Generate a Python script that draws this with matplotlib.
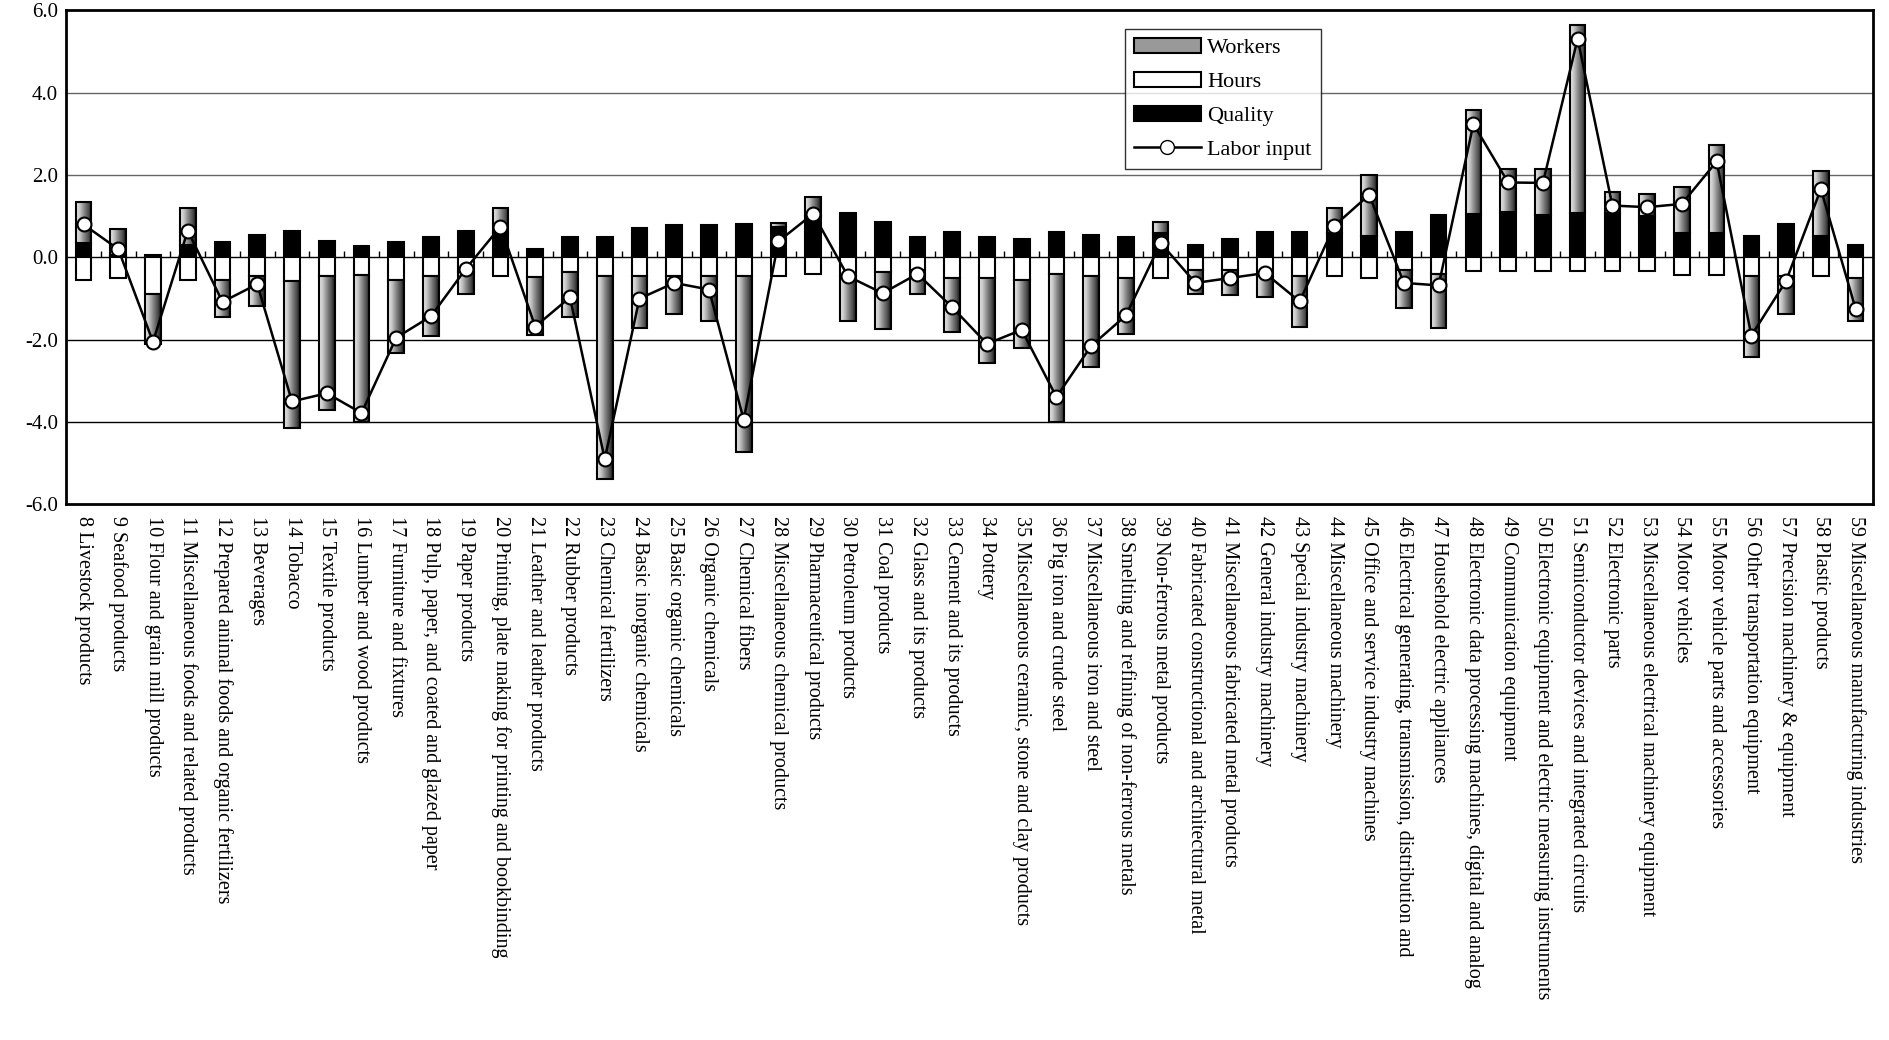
import numpy as np
import matplotlib.pyplot as plt
from matplotlib.patches import Patch
from matplotlib.lines import Line2D

plt.rcParams['font.family'] = ['Liberation Serif', 'DejaVu Serif']

industries = [
    "8 Livestock products", "9 Seafood products", "10 Flour and grain mill products",
    "11 Miscellaneous foods and related products", "12 Prepared animal foods and organic fertilizers",
    "13 Beverages", "14 Tobacco", "15 Textile products", "16 Lumber and wood products",
    "17 Furniture and fixtures", "18 Pulp, paper, and coated and glazed paper", "19 Paper products",
    "20 Printing, plate making for printing and bookbinding", "21 Leather and leather products",
    "22 Rubber products", "23 Chemical fertilizers", "24 Basic inorganic chemicals",
    "25 Basic organic chemicals", "26 Organic chemicals", "27 Chemical fibers",
    "28 Miscellaneous chemical products", "29 Pharmaceutical products", "30 Petroleum products",
    "31 Coal products", "32 Glass and its products", "33 Cement and its products", "34 Pottery",
    "35 Miscellaneous ceramic, stone and clay products", "36 Pig iron and crude steel",
    "37 Miscellaneous iron and steel", "38 Smelting and refining of non-ferrous metals",
    "39 Non-ferrous metal products", "40 Fabricated constructional and architectural metal",
    "41 Miscellaneous fabricated metal products", "42 General industry machinery",
    "43 Special industry machinery", "44 Miscellaneous machinery",
    "45 Office and service industry machines", "46 Electrical generating, transmission, distribution and",
    "47 Household electric appliances", "48 Electronic data processing machines, digital and analog",
    "49 Communication equipment", "50 Electronic equipment and electric measuring instruments",
    "51 Semiconductor devices and integrated circuits", "52 Electronic parts",
    "53 Miscellaneous electrical machinery equipment", "54 Motor vehicles",
    "55 Motor vehicle parts and accessories", "56 Other transportation equipment",
    "57 Precision machinery & equipment", "58 Plastic products", "59 Miscellaneous manufacturing industries",
]

quality = [0.35, 0.05, 0.05, 0.30, 0.38, 0.55, 0.65, 0.40, 0.27, 0.38, 0.50, 0.63, 0.60,
           0.20, 0.50, 0.50, 0.72, 0.78, 0.78, 0.80, 0.74, 1.00, 1.09, 0.87, 0.49, 0.62,
           0.49, 0.45, 0.62, 0.55, 0.49, 0.60, 0.29, 0.45, 0.62, 0.62, 0.60, 0.53, 0.62,
           1.04, 1.06, 1.10, 1.03, 1.09, 1.09, 1.00, 0.59, 0.59, 0.51, 0.82, 0.51, 0.31]
workers = [1.00, 0.65, -1.20, 0.90, -0.90, -0.72, -3.58, -3.24, -3.58, -1.77, -1.47, -0.55,
           0.60, -1.40, -1.10, -4.93, -1.27, -0.93, -1.10, -4.28, 0.10, 0.47, -1.10, -1.37,
           -0.58, -1.32, -2.08, -1.66, -3.60, -2.23, -1.37, 0.25, -0.59, -0.62, -0.51, -1.25,
           0.60, 1.48, -0.94, -1.32, 2.51, 1.05, 1.12, 4.55, 0.51, 0.55, 1.12, 2.13, -1.97,
           -0.93, 1.58, -1.06]
hours = [-0.55, -0.50, -0.90, -0.55, -0.55, -0.45, -0.57, -0.46, -0.42, -0.55, -0.45, -0.35,
         -0.45, -0.48, -0.35, -0.45, -0.45, -0.45, -0.45, -0.45, -0.45, -0.40, -0.45, -0.36,
         -0.30, -0.49, -0.49, -0.54, -0.40, -0.44, -0.49, -0.49, -0.30, -0.30, -0.45, -0.44,
         -0.44, -0.49, -0.30, -0.40, -0.34, -0.34, -0.34, -0.34, -0.34, -0.34, -0.42, -0.42,
         -0.46, -0.45, -0.44, -0.49]
labor_input = [0.80, 0.20, -2.05, 0.65, -1.08, -0.65, -3.50, -3.30, -3.78, -1.95, -1.43, -0.28,
               0.75, -1.68, -0.97, -4.90, -1.00, -0.62, -0.78, -3.94, 0.39, 1.06, -0.46, -0.87,
               -0.40, -1.21, -2.10, -1.76, -3.39, -2.15, -1.41, 0.35, -0.62, -0.50, -0.38, -1.07,
               0.77, 1.52, -0.62, -0.68, 3.24, 1.82, 1.81, 5.31, 1.26, 1.22, 1.30, 2.33, -1.90,
               -0.57, 1.66, -1.25]

x = np.arange(len(industries))
width = 0.45
gradient = np.linspace(0, 1, 256).reshape(1, -1)


def stack(values, pos, neg):
    """Stack segment on the positive or negative side and return its base."""
    bases = []
    for i, v in enumerate(values):
        if v >= 0:
            bases.append(pos[i])
            pos[i] += v
        else:
            bases.append(neg[i])
            neg[i] += v
    return np.array(bases)


fig = plt.figure(figsize=(18.9, 10.4), dpi=100)
ax = fig.add_axes([0.035, 0.515, 0.956, 0.475])

pos = np.zeros(len(x))
neg = np.zeros(len(x))
q_base = stack(quality, pos, neg)
h_base = stack(hours, pos, neg)
w_base = stack(workers, pos, neg)

ax.bar(x, quality, width, bottom=q_base, color='black', edgecolor='black', lw=1.5, zorder=3)
ax.bar(x, hours, width, bottom=h_base, color='white', edgecolor='black', lw=1.5, zorder=3)
wbars = ax.bar(x, workers, width, bottom=w_base, color='none', edgecolor='black', lw=1.5, zorder=4)
for b in wbars:
    x0, y0 = b.get_x(), b.get_y()
    im = ax.imshow(gradient, cmap='Greys', vmin=-0.2, vmax=1.1, aspect='auto',
                   extent=[x0, x0 + b.get_width(), y0, y0 + b.get_height()], zorder=3)
    im.set_clip_path(b)

ax.plot(x, labor_input, color='black', lw=1.8, marker='o', ms=10,
        markerfacecolor='white', markeredgecolor='black', markeredgewidth=1.5, zorder=5)

ax.axhline(0, color='black', lw=1, zorder=2)
ax.vlines(x[:-1] + 0.5, 0, 0.15, color='black', lw=1, zorder=2)
for g in [-4, -2, 2, 4]:
    ax.axhline(g, color='black' if g < 0 else '#666666', lw=1, zorder=1)

ax.set_xlim(-0.5, len(x) - 0.5)
ax.set_ylim(-6, 6)
ax.set_yticks(np.arange(-6, 6.1, 2))
ax.set_yticklabels([f"{v:.1f}" for v in np.arange(-6, 6.1, 2)], fontsize=15)
ax.tick_params(axis='y', length=0, pad=6)
ax.set_xticks(x)
ax.set_xticklabels(industries, rotation=-90, fontsize=14.5, va='top', ha='center')
ax.tick_params(axis='x', length=0, pad=8)
for s in ax.spines.values():
    s.set_linewidth(2)

handles = [
    Patch(facecolor='#999999', edgecolor='black', lw=1.5),
    Patch(facecolor='white', edgecolor='black', lw=1.5),
    Patch(facecolor='black', edgecolor='black', lw=1.5),
    Line2D([], [], color='black', lw=1.8, marker='o', ms=10,
           markerfacecolor='white', markeredgecolor='black'),
]
leg = ax.legend(handles, ["Workers", "Hours", "Quality", "Labor input"],
                loc='upper left', bbox_to_anchor=(0.58, 0.985), fontsize=16,
                frameon=True, fancybox=False, edgecolor='black', handlelength=3,
                labelspacing=0.6, borderpad=0.4, handletextpad=0.3)
leg.get_frame().set_linewidth(1)

fig.savefig("out.png")
